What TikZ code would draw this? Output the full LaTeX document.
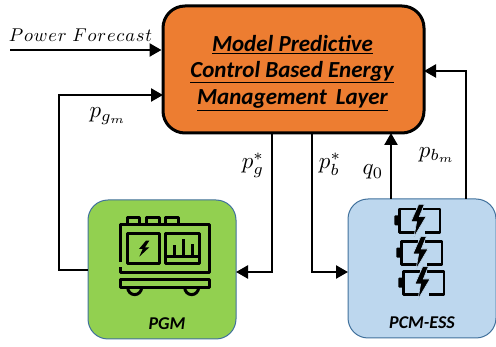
\documentclass[tikz,border=0pt]{standalone}
\usepackage{graphicx}
\usepackage{fontspec}
\newfontfamily\carlito{Carlito}
\usetikzlibrary{arrows.meta}
\definecolor{mainor}{HTML}{ED7D31}
\definecolor{pgmgreen}{HTML}{92D050}
\definecolor{pcmblue}{HTML}{BDD7EE}
\definecolor{edgeblue}{HTML}{41719C}
\newcommand{\mlab}[1]{\scalebox{2.3}{$#1$}}
\newcommand{\lk}{\kern0.45pt}
\tikzset{
  conn/.style={line width=2.3pt,-{Triangle[length=12pt,width=13pt]}},
  lab/.style={inner sep=0pt},
  title/.style={inner sep=0pt,font=\fontsize{23}{23}\selectfont\carlito\bfseries\itshape},
  dev/.style={inner sep=0pt,font=\fontsize{18}{18}\selectfont\carlito\bfseries\itshape},
  ico/.style={line width=3pt,line join=round},
  bolt/.style={fill=black,draw=pcmblue,line width=0.6pt}
}
\newcommand{\batt}[2]{%
  \begin{scope}[shift={(#1,#2)}]
    \draw[ico,line width=2.5pt] (50,0) -- (0,0) -- (0,70) -- (47,70);
    \draw[ico,line width=2.5pt] (70,0) -- (122,0) -- (122,70) -- (78,70);
    \fill[black,rounded corners=1pt] (-15,19) rectangle (2,49);
    \path[bolt] (58,-14) -- (35,38) -- (52,38) -- (44,84) -- (80,23) -- (60,23) -- (75,-14) -- cycle;
  \end{scope}}
\begin{document}
\begin{tikzpicture}[x=1pt,y=-1pt]
\useasboundingbox (0,0) rectangle (496,347);
\node[draw=edgeblue,fill=pgmgreen,line width=1pt,rounded corners=20pt,minimum width=148pt,minimum height=139pt,inner sep=0pt] (pgm) at (162,269.5) {};
\node[draw=edgeblue,fill=pcmblue,line width=1pt,rounded corners=20pt,minimum width=148pt,minimum height=139pt,inner sep=0pt] (pcm) at (422,268.5) {};
\node[draw=black,fill=mainor,line width=3pt,rounded corners=22pt,minimum width=261pt,minimum height=127pt,inner sep=0pt] (mpc) at (293.5,69.5) {};
\node[title] (t1) at (292.5,45) {\underline{Model Predictive}};
\node[title] (t2) at (292,72) {\underline{Control Based Energy}};
\node[title] (t3) at (292.5,100) {\underline{Management\, Layer}};
\node[dev] (pgmlab) at (167,324) {PGM};
\node[dev] (pcmlab) at (422,323) {PCM-ESS};
\coordinate (pfstart) at (10,50);
\coordinate (pfend) at (pfstart -| mpc.west);
\draw[conn] (pfstart) -- (pfend);
\coordinate (gmout) at (88,270);
\coordinate (gmin) at (163,95);
\draw[conn] (gmout) -- (59,270) -- (59,95) -- (gmin);
\coordinate (gsa) at (272,133);
\coordinate (gsb) at (236,272);
\draw[conn] (gsa) -- (272,272) -- (gsb);
\coordinate (bsa) at (312,133);
\coordinate (bsb) at (348,272);
\draw[conn] (bsa) -- (312,272) -- (bsb);
\coordinate (qa) at (391,199);
\coordinate (qb) at (391,133);
\draw[conn] (qa) -- (qb);
\coordinate (bma) at (466,199);
\coordinate (bmb) at (424,71);
\draw[conn] (bma) -- (466,71) -- (bmb);
\node[lab] (pf) at (80.5,35) {\scalebox{1.85}{$P\lk o\lk w\lk e\lk r\kern3pt F\lk o\lk r\lk e\lk c\lk a\lk s\lk t$}};
\node[lab] (lgm) at (108,116) {\mlab{p_{g_m}}};
\node[lab] (lgs) at (253,165) {\mlab{p_g^*}};
\node[lab] (lbs) at (330,164) {\mlab{p_b^*}};
\node[lab] (lq) at (373,172) {\mlab{q_0}};
\node[lab] (lbm) at (437,155) {\mlab{p_{b_m}}};
% generator icon
\begin{scope}[shift={(90,200)},x=0.3333pt,y=-0.3333pt]
  \draw[ico] (112,72) -- (112,52) -- (150,52) -- (150,72);
  \draw[ico] (170,72) -- (170,52) -- (208,52) -- (208,72);
  \draw[ico] (228,72) -- (228,52) -- (266,52) -- (266,72);
  \draw[ico] (92,185) -- (92,75) -- (358,75) -- (358,217) -- (92,217) -- (92,200);
  \draw[ico] (114,100) rectangle (210,192);
  \draw[ico] (228,100) rectangle (330,192);
  \draw[ico] (228,171) -- (330,171);
  \draw[ico,line width=2.5pt] (254,171) -- (254,136) (281,171) -- (281,116) (307,171) -- (307,132);
  \draw[ico] (92,238) rectangle (358,262);
  \draw[ico] (113,262) arc[start angle=180,end angle=360,x radius=21,y radius=-22];
  \draw[ico] (284,262) arc[start angle=180,end angle=360,x radius=21,y radius=-22];
  \fill (168,122) -- (147,147) -- (158,147) -- (148,170) -- (178,142) -- (165,142) -- (178,122) -- cycle;
\end{scope}
% battery icons
\begin{scope}[shift={(346,195)},x=0.3333pt,y=-0.3333pt]
  \batt{160}{42}
  \batt{166}{139}
  \batt{172}{229}
\end{scope}
\end{tikzpicture}
\end{document}
